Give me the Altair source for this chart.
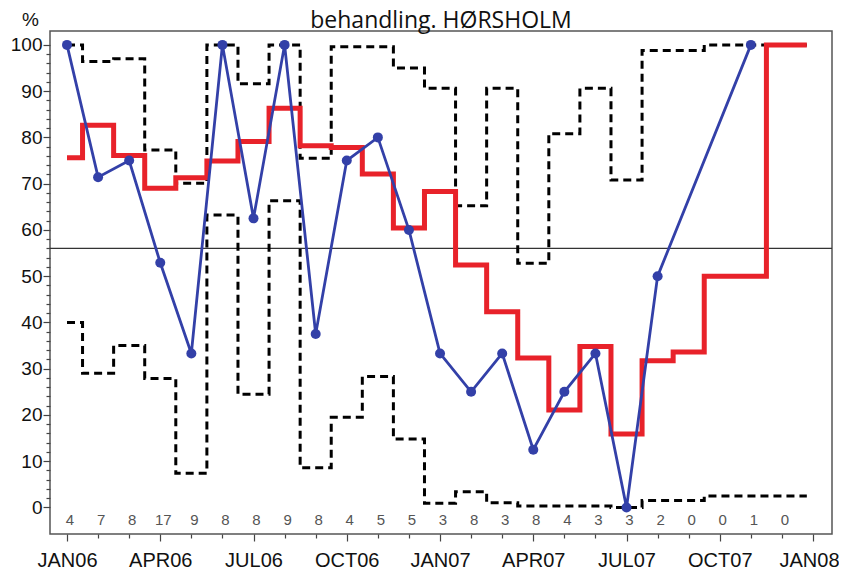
import altair as alt
import pandas as pd

# ---- data ----
months = ["JAN06", "FEB06", "MAR06", "APR06", "MAY06", "JUN06", "JUL06", "AUG06",
          "SEP06", "OCT06", "NOV06", "DEC06", "JAN07", "FEB07", "MAR07", "APR07",
          "MAY07", "JUN07", "JUL07", "AUG07", "SEP07", "OCT07", "NOV07", "DEC07"]
tick_labels = ["JAN06", "APR06", "JUL06", "OCT06", "JAN07", "APR07", "JUL07", "OCT07", "JAN08"]

pct = [100, 71.4, 75, 52.9, 33.3, 100, 62.5, 100, 37.5, 75, 80, 60,
       33.3, 25, 33.3, 12.5, 25, 33.3, 0, 50, None, None, 100, None]
mean_pct = [75.6, 82.6, 76.1, 69.0, 71.3, 74.9, 79.1, 86.3, 78.2, 77.8, 72.1, 60.4,
            68.3, 52.4, 42.3, 32.3, 21.1, 34.8, 15.9, 31.7, 33.6, 50.0, 50.0, 100.0]
ucl = [100, 96.4, 97.0, 77.3, 70.1, 100, 91.6, 100, 75.5, 99.6, 99.6, 95.0,
       90.6, 65.2, 90.6, 52.8, 80.8, 90.6, 70.8, 98.8, 98.8, 100, 100, 100]
lcl = [40.0, 29.0, 35.0, 27.9, 7.4, 63.2, 24.5, 66.3, 8.6, 19.5, 28.3, 14.8,
       0.9, 3.4, 1.0, 0.3, 0.3, 0.3, 0.0, 1.5, 1.5, 2.5, 2.5, 2.5]
counts = [4, 7, 8, 17, 9, 8, 8, 9, 8, 4, 5, 5, 3, 8, 3, 8, 4, 3, 3, 2, 0, 0, 1, 0]
target = 56
count_row_y = -2.6

n = len(months)
idx = list(range(n))

pts = pd.DataFrame({"m": idx, "label": months, "pct": pct}).dropna()

# step series (last step carried a little past the final month, as in the reference)
step_x = idx + [n - 1 + 0.8]
steps = pd.DataFrame({
    "m": step_x * 3,
    "v": (mean_pct + [mean_pct[-1]]) + (ucl + [ucl[-1]]) + (lcl + [lcl[-1]]),
    "s": ["mean"] * (n + 1) + ["ucl"] * (n + 1) + ["lcl"] * (n + 1),
})
cnt = pd.DataFrame({"m": idx, "n": [str(c) for c in counts], "y": [count_row_y] * n})
ref = pd.DataFrame({"y": [target]})

lab_arr = "[" + ",".join("'" + t + "'" for t in tick_labels) + "]"

x_scale = alt.Scale(domain=[-0.547, 24.61], nice=False, zero=False)
y_scale = alt.Scale(domain=[-5.73, 103.0], nice=False, zero=False)

x_axis = alt.Axis(
    values=list(range(0, 25)),
    labelExpr=f"datum.value % 3 == 0 ? {lab_arr}[datum.value / 3] : ''",
    tickSize={"condition": {"test": "datum.value % 3 != 0", "value": 4}, "value": 7},
    labelOffset={"condition": {"test": "datum.value == 24", "value": -4}, "value": 0},
    tickColor="#444", tickWidth=1.2, domain=False, grid=False,
    labelFont="Liberation Sans", labelFontSize=20, labelColor="#111",
    labelPadding=9, labelOverlap=False, labelBound=False, title=None,
)
y_axis = alt.Axis(
    values=list(range(0, 101, 2)),
    labelExpr="datum.value % 10 == 0 ? datum.label : ''",
    tickSize={"condition": {"test": "datum.value % 10 != 0", "value": 4}, "value": 7},
    tickColor="#444", tickWidth=1.2, domain=False, grid=False,
    labelFont="Liberation Sans", labelFontSize=19, labelColor="#111",
    labelPadding=1, labelOverlap=False,
    title="%", titleAngle=0, titleX=-20, titleY=-6, titleAlign="center",
    titleBaseline="alphabetic", titleFont="Liberation Sans", titleFontSize=19,
    titleFontWeight="normal", titleColor="#111",
)

X = alt.X("m:Q", scale=x_scale, axis=x_axis)

rule = alt.Chart(ref).mark_rule(color="#333", strokeWidth=1.2).encode(
    y=alt.Y("y:Q", scale=y_scale, axis=y_axis)
)

limits = alt.Chart(steps).transform_filter("datum.s != 'mean'").mark_line(
    interpolate="step", color="black", strokeWidth=3, strokeDash=[8, 5]
).encode(x=X, y=alt.Y("v:Q", scale=y_scale, axis=y_axis), detail="s:N")

mean_line = alt.Chart(steps).transform_filter("datum.s == 'mean'").mark_line(
    interpolate="step", color="#e8222a", strokeWidth=5
).encode(x=X, y=alt.Y("v:Q", scale=y_scale, axis=y_axis))

blue_line = alt.Chart(pts).mark_line(color="#3340a8", strokeWidth=2.8).encode(
    x=X, y=alt.Y("pct:Q", scale=y_scale, axis=y_axis)
)
blue_pts = alt.Chart(pts).mark_circle(color="#3340a8", size=100, opacity=1).encode(
    x=X, y=alt.Y("pct:Q", scale=y_scale, axis=y_axis)
)

count_text = alt.Chart(cnt).mark_text(
    font="Liberation Sans", fontSize=15, color="#555", dx=3, baseline="middle"
).encode(x=X, y=alt.Y("y:Q", scale=y_scale, axis=y_axis), text="n:N")

chart = alt.layer(rule, limits, mean_line, blue_line, blue_pts, count_text).properties(
    width=782, height=503,
    autosize=alt.AutoSizeParams(type="none"),
    padding={"left": 42, "top": 23, "right": 7, "bottom": 38},
    title=alt.TitleParams(
        "behandling. HØRSHOLM", font="Open Sans", fontSize=23, fontWeight="normal",
        color="#111", anchor="middle", frame="group", baseline="alphabetic", offset=6,
        dy=47,
    ),
).configure_view(stroke="#555", strokeWidth=1.5)

chart.save("out.html", embed_options={"renderer": "svg", "actions": False})
